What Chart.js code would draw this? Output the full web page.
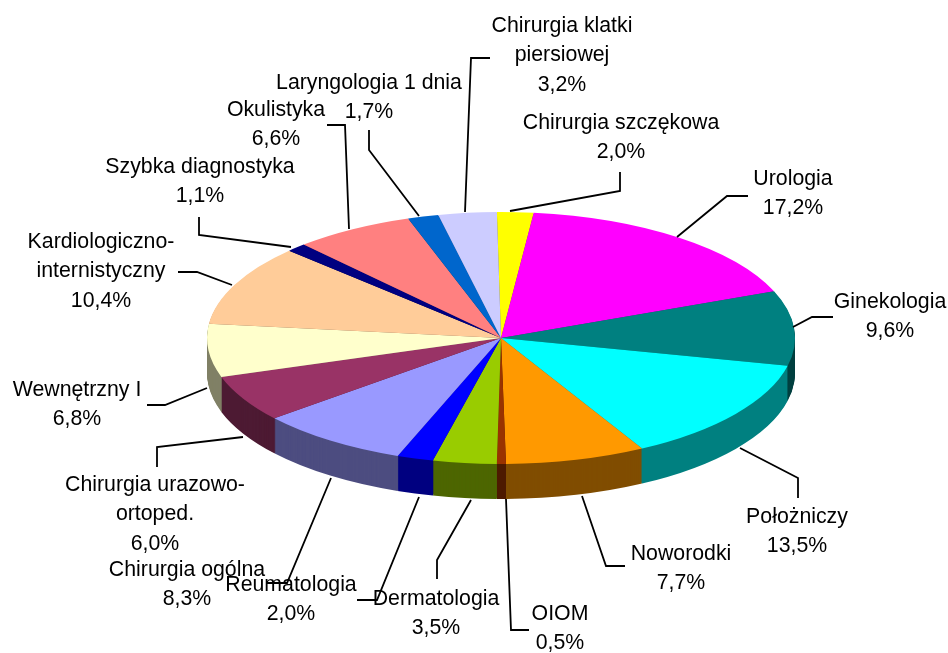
<!DOCTYPE html>
<html>
<head>
<meta charset="utf-8">
<style>html,body{margin:0;padding:0;background:#fff}canvas{display:block}</style>
<script src="https://cdn.jsdelivr.net/npm/chart.js@4"></script>
</head>
<body>
<canvas id="c" width="948" height="653"></canvas>
<script>
const categories = ["Chirurgia szczękowa","Urologia","Ginekologia","Położniczy","Noworodki","OIOM","Dermatologia","Reumatologia","Chirurgia ogólna","Chirurgia urazowo-ortoped.","Wewnętrzny I","Kardiologiczno-internistyczny","Szybka diagnostyka","Okulistyka","Laryngologia 1 dnia","Chirurgia klatki piersiowej"];
const values = [2.0,17.2,9.6,13.5,7.7,0.5,3.5,2.0,8.3,6.0,6.8,10.4,1.1,6.6,1.7,3.2];
const colors = ["#FFFF00","#FF00FF","#008080","#00FFFF","#FF9900","#993300","#99CC00","#0000FF","#9999FF","#993366","#FFFFCC","#FFCC99","#000080","#FF8080","#0066CC","#CCCCFF"];
const sideColors = ["#808000","#800080","#004040","#008080","#804D00","#4D1A00","#4D6600","#000080","#4D4D80","#4D1A33","#808066","#80664D","#000040","#804040","#003366","#666680"];

// Label lines (name lines, then the value is appended) with centre x and first baseline-middle y.
const labelLines = [["Chirurgia szczękowa"],["Urologia"],["Ginekologia"],["Położniczy"],["Noworodki"],["OIOM"],["Dermatologia"],["Reumatologia"],["Chirurgia ogólna"],["Chirurgia urazowo-","ortoped."],["Wewnętrzny I"],["Kardiologiczno-","internistyczny"],["Szybka diagnostyka"],["Okulistyka"],["Laryngologia 1 dnia"],["Chirurgia klatki","piersiowej"]];
const labelAnchors = [[621,123],[793,179],[890,302],[797,517],[681,554],[560,614],[436,599],[291,585],[187,570],[155,485],[77,390],[101,242],[200,167],[276,110],[369,83],[562,26]];
const leaders = [
 [[510,211],[620,191],[620,172]],
 [[677,237],[727,196],[748,196]],
 [[793,327],[812,317],[833,317]],
 [[740,448],[798,478],[798,498]],
 [[582,496],[606,566],[625,566]],
 [[506,499],[511,630],[529,630]],
 [[471,500],[437,560],[437,579]],
 [[419,497],[377,600],[357,600]],
 [[331,478],[287,583],[267,583]],
 [[243,437],[157,447],[157,467]],
 [[207,388],[165,405],[147,405]],
 [[232,285],[197,272],[178,272]],
 [[291,247],[199,235],[199,217]],
 [[349,229],[345,125],[327,125]],
 [[419,216],[369,150],[369,130]],
 [[465,212],[471,58],[490,58]]
];
const pieCentre = [501,338], pieRadius = 294, pieMinor = 126, pieDepth = 35, lineStep = 29.5;

function tilt(ctx, arc, dy){
  const s = pieMinor/pieRadius;
  ctx.setTransform(1,0,0,s,pieCentre[0]-arc.x,pieCentre[1]+dy-arc.y*s);
}
const pie3d = {
  id:'pie3d',
  beforeDatasetsDraw(chart){
    const ctx = chart.ctx, arcs = chart.getDatasetMeta(0).data;
    ctx.save();
    for(let d=pieDepth;d>0;d--){
      tilt(ctx,arcs[0],d);
      arcs.forEach((a,i)=>{
        const o=a.options;
        a.options=Object.assign({},o,{backgroundColor:sideColors[i]});
        a.draw(ctx,chart.chartArea);
        a.options=o;
      });
    }
    tilt(ctx,arcs[0],0);
  },
  afterDatasetsDraw(chart){
    const ctx = chart.ctx;
    ctx.restore();
    ctx.save();
    ctx.strokeStyle='#000';ctx.lineWidth=1.8;
    leaders.forEach(l=>{
      ctx.beginPath();
      l.forEach((p,i)=>i?ctx.lineTo(p[0],p[1]):ctx.moveTo(p[0],p[1]));
      ctx.stroke();
    });
    ctx.fillStyle='#000';ctx.font='21.3px "Liberation Sans", Arial, sans-serif';
    ctx.textAlign='center';ctx.textBaseline='middle';
    categories.forEach((c,i)=>{
      const lines=labelLines[i].concat(values[i].toFixed(1).replace('.',',')+'%');
      lines.forEach((t,k)=>ctx.fillText(t,labelAnchors[i][0],labelAnchors[i][1]+k*lineStep));
    });
    ctx.restore();
  }
};
new Chart(document.getElementById('c'),{
  type:'pie',
  data:{labels:categories,datasets:[{data:values,backgroundColor:colors,borderWidth:0,radius:pieRadius,clip:false}]},
  options:{responsive:false,animation:false,rotation:-0.8,
    layout:{padding:0},
    plugins:{legend:{display:false},tooltip:{enabled:false}},
    events:[]},
  plugins:[pie3d]
});
</script>
</body>
</html>
